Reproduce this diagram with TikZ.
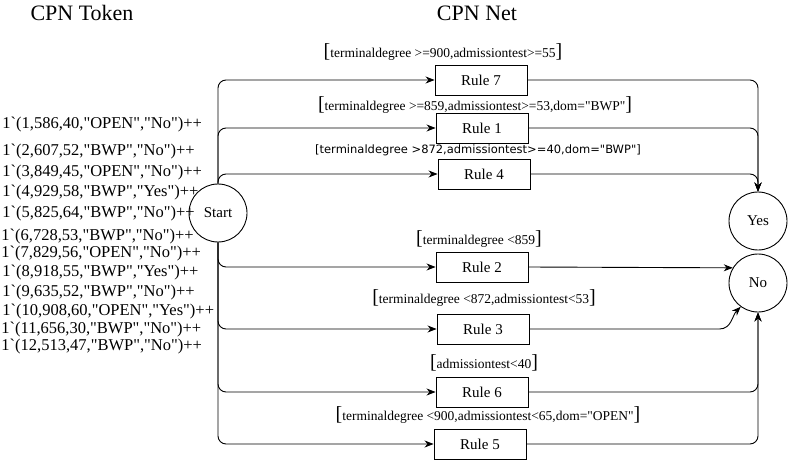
\documentclass[tikz,border=0pt]{standalone}
\usepackage{fontspec}
\setmainfont{Liberation Serif}[Ligatures=TeXOff]
\newfontfamily\guardsans{DejaVu Sans}
\usetikzlibrary{arrows.meta}
\newcommand{\tick}{\textasciigrave}
\newcommand{\brk}[1]{{\fontsize{20}{20}\selectfont #1}}

\begin{document}
\begin{tikzpicture}[x=1pt, y=1pt, line width=0.9,
  token/.style={anchor=west, inner sep=0, font=\fontsize{16.5}{16.5}\selectfont},
  guard/.style={inner sep=0, font=\fontsize{13.5}{14}\selectfont},
  rulebox/.style={draw, minimum width=92, minimum height=30, inner sep=0, font=\fontsize{15}{15}\selectfont},
  place/.style={draw, circle, minimum size=58, inner sep=0, font=\fontsize{15}{15}\selectfont},
  flow/.style={-{Stealth[length=9pt,width=7pt]}, rounded corners=8}]
\useasboundingbox (0,0) rectangle (788,-460);
\node[font=\fontsize{22}{22}\selectfont] (tokentitle) at (82,-13) {CPN Token};
\node[font=\fontsize{22}{22}\selectfont] (nettitle) at (477,-13) {CPN Net};
\node[token] (t1) at (2,-125) {1\tick(1,586,40,"OPEN","No")++};
\node[token] (t2) at (2,-152) {1\tick(2,607,52,"BWP","No")++};
\node[token] (t3) at (2,-173) {1\tick(3,849,45,"OPEN","No")++};
\node[token] (t4) at (2,-193) {1\tick(4,929,58,"BWP","Yes")++};
\node[token] (t5) at (2,-214) {1\tick(5,825,64,"BWP","No")++};
\node[token] (t6) at (1,-237) {1\tick(6,728,53,"BWP","No")++};
\node[token] (t7) at (1,-254) {1\tick(7,829,56,"OPEN","No")++};
\node[token] (t8) at (2,-273) {1\tick(8,918,55,"BWP","Yes")++};
\node[token] (t9) at (2,-293) {1\tick(9,635,52,"BWP","No")++};
\node[token] (t10) at (2,-312) {1\tick(10,908,60,"OPEN","Yes")++};
\node[token] (t11) at (1,-330) {1\tick(11,656,30,"BWP","No")++};
\node[token] (t12) at (1,-347) {1\tick(12,513,47,"BWP","No")++};
\node[place] (start) at (218,-213) {Start};
\node[place] (yes) at (758,-221) {Yes};
\node[place] (no) at (758,-283) {No};
\node[rulebox] (rule7) at (481,-80) {Rule 7};
\node[rulebox] (rule1) at (482,-128) {Rule 1};
\node[rulebox] (rule4) at (484,-174) {Rule 4};
\node[rulebox] (rule2) at (482,-267) {Rule 2};
\node[rulebox] (rule3) at (483,-329) {Rule 3};
\node[rulebox] (rule6) at (482,-392) {Rule 6};
\node[rulebox] (rule5) at (480,-444) {Rule 5};
\node[guard] (g7) at (443,-52) {\brk{[}terminaldegree >=900,admissiontest>=55\brk{]}};
\node[guard] (g1) at (475,-105) {\brk{[}terminaldegree >=859,admissiontest>=53,dom="BWP"\brk{]}};
\node[guard, font=\guardsans\fontsize{11.5}{12}\selectfont] (g4) at (478,-150) {[terminaldegree >872,admissiontest>=40,dom="BWP"]};
\node[guard] (g2) at (479,-239) {\brk{[}terminaldegree <859\brk{]}};
\node[guard] (g3) at (484,-298) {\brk{[}terminaldegree <872,admissiontest<53\brk{]}};
\node[guard] (g6) at (484,-363) {\brk{[}admissiontest<40\brk{]}};
\node[guard] (g5) at (488,-415) {\brk{[}terminaldegree <900,admissiontest<65,dom="OPEN"\brk{]}};
\draw[flow] (start.north) |- (rule7.west);
\draw[flow] (start.north) |- (rule1.west);
\draw[flow] (start.north) |- (rule4.west);
\draw[flow] (start.south) |- (rule2.west);
\draw[flow] (start.south) |- (rule3.west);
\draw[flow] (start.south) |- (rule6.west);
\draw[flow] (start.south) |- (rule5.west);
\draw[flow] (rule7.east) -| (yes.north);
\draw[flow] (rule1.east) -| (yes.north);
\draw[flow] (rule4.east) -| (yes.north);
\draw[flow] (rule2.east) -- (no.149);
\draw[flow, sharp corners] (rule3.east) -- ++(190,0) to[out=0, in=225] (no.234);
\draw[flow] (rule6.east) -| (no.south);
\draw[flow] (rule5.east) -| (no.south);
\end{tikzpicture}
\end{document}
